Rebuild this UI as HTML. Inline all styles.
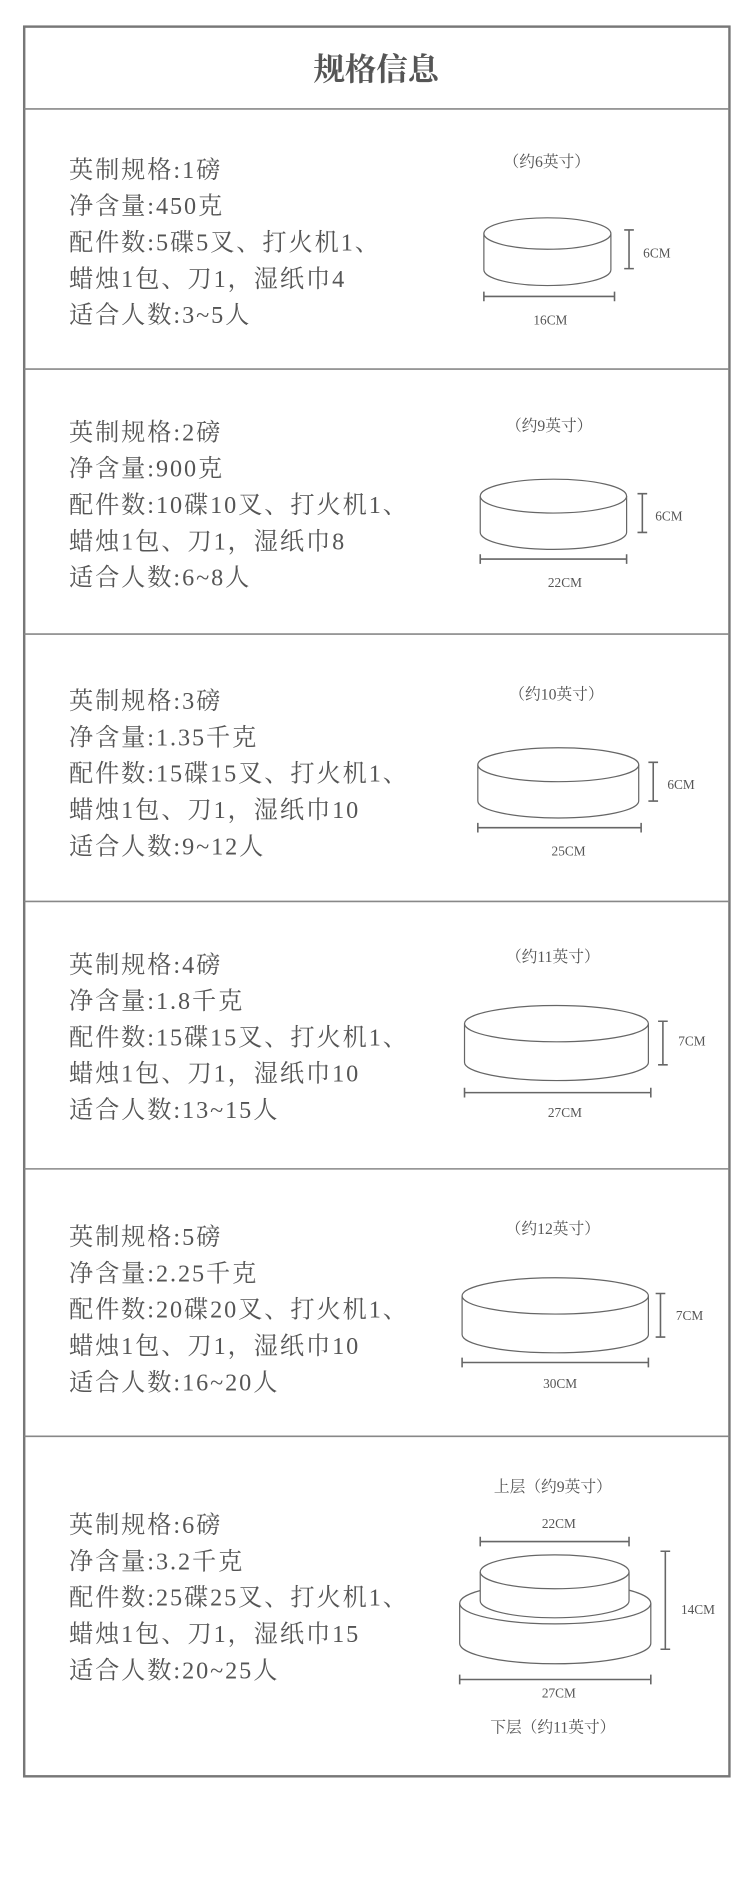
<!DOCTYPE html>
<html><head><meta charset="utf-8"><style>
html,body{margin:0;padding:0;background:#fff;width:750px;height:1884px;overflow:hidden}
svg{display:block}
text{font-family:"Liberation Serif","Noto Serif CJK SC",serif;fill:#555}
.b{font-size:20px;letter-spacing:1.6px}
.l{font-size:13px;text-anchor:middle}
.c{font-size:11px;text-anchor:middle}
.s{fill:#fff;stroke:#666;stroke-width:1}
.m{stroke:#666;stroke-width:1.3;fill:none}
</style></head><body>
<svg width="750" height="1884" viewBox="0 0 620 1557" preserveAspectRatio="none">
<rect x="20" y="22" width="583" height="1446" fill="none" stroke="#777" stroke-width="2"/>
<g stroke="#888" stroke-width="1.3">
<line x1="20" y1="90" x2="603" y2="90"/>
<line x1="20" y1="305" x2="603" y2="305"/>
<line x1="20" y1="524" x2="603" y2="524"/>
<line x1="20" y1="745" x2="603" y2="745"/>
<line x1="20" y1="966" x2="603" y2="966"/>
<line x1="20" y1="1187" x2="603" y2="1187"/>
</g>
<text x="311" y="66" style="font-size:26px;font-weight:bold;text-anchor:middle;fill:#555">规格信息</text>

<text x="57" y="147" class="b">英制规格:1磅</text>
<text x="57" y="177" class="b">净含量:450克</text>
<text x="57" y="207" class="b">配件数:5碟5叉、打火机1、</text>
<text x="57" y="237" class="b">蜡烛1包、刀1，湿纸巾4</text>
<text x="57" y="267" class="b">适合人数:3~5人</text>
<text x="452" y="138" class="l">（约6英寸）</text>
<path class="s" d="M400 193 V223 A52.5 13 0 0 0 505 223 V193"/>
<ellipse class="s" cx="452.5" cy="193" rx="52.5" ry="13"/>
<path class="m" d="M516 190h8M520 190v32M516 222h8"/>
<text x="543" y="213" class="c">6CM</text>
<path class="m" d="M400 241v8M400 245h108M508 241v8"/>
<text x="455" y="268" class="c">16CM</text>

<text x="57" y="364" class="b">英制规格:2磅</text>
<text x="57" y="394" class="b">净含量:900克</text>
<text x="57" y="424" class="b">配件数:10碟10叉、打火机1、</text>
<text x="57" y="454" class="b">蜡烛1包、刀1，湿纸巾8</text>
<text x="57" y="484" class="b">适合人数:6~8人</text>
<text x="454" y="356" class="l">（约9英寸）</text>
<path class="s" d="M397 410 V440 A60.5 14 0 0 0 518 440 V410"/>
<ellipse class="s" cx="457.5" cy="410" rx="60.5" ry="14"/>
<path class="m" d="M527 408h8M531 408v32M527 440h8"/>
<text x="553" y="430" class="c">6CM</text>
<path class="m" d="M397 458v8M397 462h121M518 458v8"/>
<text x="467" y="485" class="c">22CM</text>

<text x="57" y="586" class="b">英制规格:3磅</text>
<text x="57" y="616" class="b">净含量:1.35千克</text>
<text x="57" y="646" class="b">配件数:15碟15叉、打火机1、</text>
<text x="57" y="676" class="b">蜡烛1包、刀1，湿纸巾10</text>
<text x="57" y="706" class="b">适合人数:9~12人</text>
<text x="460" y="578" class="l">（约10英寸）</text>
<path class="s" d="M395 632 V662 A66.5 14 0 0 0 528 662 V632"/>
<ellipse class="s" cx="461.5" cy="632" rx="66.5" ry="14"/>
<path class="m" d="M536 630h8M540 630v32M536 662h8"/>
<text x="563" y="652" class="c">6CM</text>
<path class="m" d="M395 680v8M395 684h135M530 680v8"/>
<text x="470" y="707" class="c">25CM</text>

<text x="57" y="804" class="b">英制规格:4磅</text>
<text x="57" y="834" class="b">净含量:1.8千克</text>
<text x="57" y="864" class="b">配件数:15碟15叉、打火机1、</text>
<text x="57" y="894" class="b">蜡烛1包、刀1，湿纸巾10</text>
<text x="57" y="924" class="b">适合人数:13~15人</text>
<text x="457" y="795" class="l">（约11英寸）</text>
<path class="s" d="M384 846 V878 A76 15 0 0 0 536 878 V846"/>
<ellipse class="s" cx="460" cy="846" rx="76" ry="15"/>
<path class="m" d="M544 844h8M548 844v36M544 880h8"/>
<text x="572" y="864" class="c">7CM</text>
<path class="m" d="M384 899v8M384 903h154M538 899v8"/>
<text x="467" y="923" class="c">27CM</text>

<text x="57" y="1029" class="b">英制规格:5磅</text>
<text x="57" y="1059" class="b">净含量:2.25千克</text>
<text x="57" y="1089" class="b">配件数:20碟20叉、打火机1、</text>
<text x="57" y="1119" class="b">蜡烛1包、刀1，湿纸巾10</text>
<text x="57" y="1149" class="b">适合人数:16~20人</text>
<text x="457" y="1020" class="l">（约12英寸）</text>
<path class="s" d="M382 1071 V1103 A77 15 0 0 0 536 1103 V1071"/>
<ellipse class="s" cx="459" cy="1071" rx="77" ry="15"/>
<path class="m" d="M542 1069h8M546 1069v36M542 1105h8"/>
<text x="570" y="1091" class="c">7CM</text>
<path class="m" d="M382 1122v8M382 1126h154M536 1122v8"/>
<text x="463" y="1147" class="c">30CM</text>

<text x="57" y="1267" class="b">英制规格:6磅</text>
<text x="57" y="1297" class="b">净含量:3.2千克</text>
<text x="57" y="1327" class="b">配件数:25碟25叉、打火机1、</text>
<text x="57" y="1357" class="b">蜡烛1包、刀1，湿纸巾15</text>
<text x="57" y="1387" class="b">适合人数:20~25人</text>
<text x="457" y="1233" class="l">上层（约9英寸）</text>
<text x="462" y="1263" class="c">22CM</text>
<path class="m" d="M397 1270v8M397 1274h123M520 1270v8"/>
<path class="s" d="M380 1325 V1358 A79 17 0 0 0 538 1358 V1325"/>
<ellipse class="s" cx="459" cy="1325" rx="79" ry="17"/>
<path class="s" d="M397 1299 V1323 A61.5 14 0 0 0 520 1323 V1299"/>
<ellipse class="s" cx="458.5" cy="1299" rx="61.5" ry="14"/>
<path class="m" d="M546 1282h8M550 1282v81M546 1363h8"/>
<text x="577" y="1334" class="c">14CM</text>
<path class="m" d="M380 1384v8M380 1388h158M538 1384v8"/>
<text x="462" y="1403" class="c">27CM</text>
<text x="457" y="1432" class="l">下层（约11英寸）</text>
</svg>
</body></html>
